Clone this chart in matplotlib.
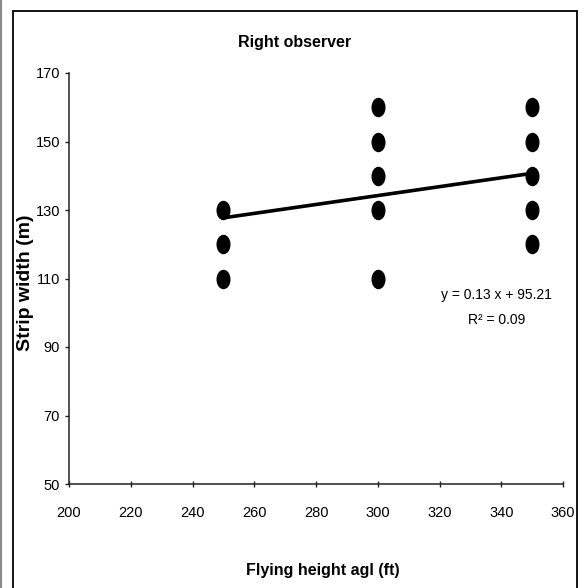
import numpy as np
import matplotlib
matplotlib.use("Agg")
import matplotlib.pyplot as plt
from matplotlib.path import Path
from matplotlib.transforms import Affine2D
from matplotlib.patches import Rectangle
from matplotlib.lines import Line2D

plt.rcParams['font.family'] = ['Liberation Sans', 'DejaVu Sans']

# -----------------------------
# Data
# -----------------------------
flying_height = [250, 250, 250, 300, 300, 300, 300, 300, 350, 350, 350, 350, 350]
strip_width = [110, 120, 130, 110, 130, 140, 150, 160, 120, 130, 140, 150, 160]

slope = 0.13
intercept = 95.21
r_squared = 0.09

x_ticks = [200, 220, 240, 260, 280, 300, 320, 340, 360]
y_ticks = [50, 70, 90, 110, 130, 150, 170]

# -----------------------------
# Plot
# -----------------------------
fig = plt.figure(figsize=(5.84, 5.88), dpi=100)
ax = fig.add_axes([69 / 584, 1 - 484 / 588, (563 - 69) / 584, (484 - 73) / 588])

# tall ellipse marker (chart was squeezed sideways)
ellipse = Path.unit_circle().transformed(Affine2D().scale(0.7, 1.0))
ax.plot(flying_height, strip_width, linestyle="none", marker=ellipse,
        markersize=13, color="black", zorder=3)

x_fit = np.array([min(flying_height), max(flying_height)])
ax.plot(x_fit, slope * x_fit + intercept, color="black", linewidth=2.6, zorder=2)

ax.set_xlim(200, 360)
ax.set_ylim(50, 170)
ax.set_xticks(x_ticks)
ax.set_yticks(y_ticks)

for side in ("top", "right"):
    ax.spines[side].set_visible(False)
for side in ("left", "bottom"):
    ax.spines[side].set_linewidth(1.1)
    ax.spines[side].set_color("#222222")

ax.tick_params(axis="x", direction="inout", length=5, width=1, pad=13,
               labelsize=10.5, color="#222222")
ax.tick_params(axis="y", direction="out", length=3, width=1, pad=3.5,
               labelsize=10.5, color="#222222")

ax.text(0.866, 0.46, f"y = {slope:.2f} x + {intercept:.2f}",
        transform=ax.transAxes, ha="center", va="center", fontsize=10)
ax.text(0.866, 0.399, f"R\u00b2 = {r_squared:.2f}",
        transform=ax.transAxes, ha="center", va="center", fontsize=10)

fig.text(295 / 584, 1 - 42 / 588, "Right observer", ha="center", va="center",
         fontsize=11.5, fontweight="bold")
fig.text(323 / 584, 1 - 570 / 588, "Flying height agl (ft)", ha="center",
         va="center", fontsize=11.5, fontweight="bold")
fig.text(26 / 584, 1 - 283 / 588, "Strip width (m)", ha="center", va="center",
         rotation=90, fontsize=14, fontweight="bold")

# chart frame and neighbouring edge
fig.add_artist(Rectangle((13 / 584, -0.05), (577 - 13) / 584, 1.05 - 11 / 588,
                         transform=fig.transFigure, fill=False,
                         edgecolor="black", linewidth=1.3))
fig.add_artist(Line2D([1 / 584, 1 / 584], [0, 1], transform=fig.transFigure,
                      color="#888888", linewidth=1.5))

fig.savefig("out.png", dpi=100)
plt.close(fig)
